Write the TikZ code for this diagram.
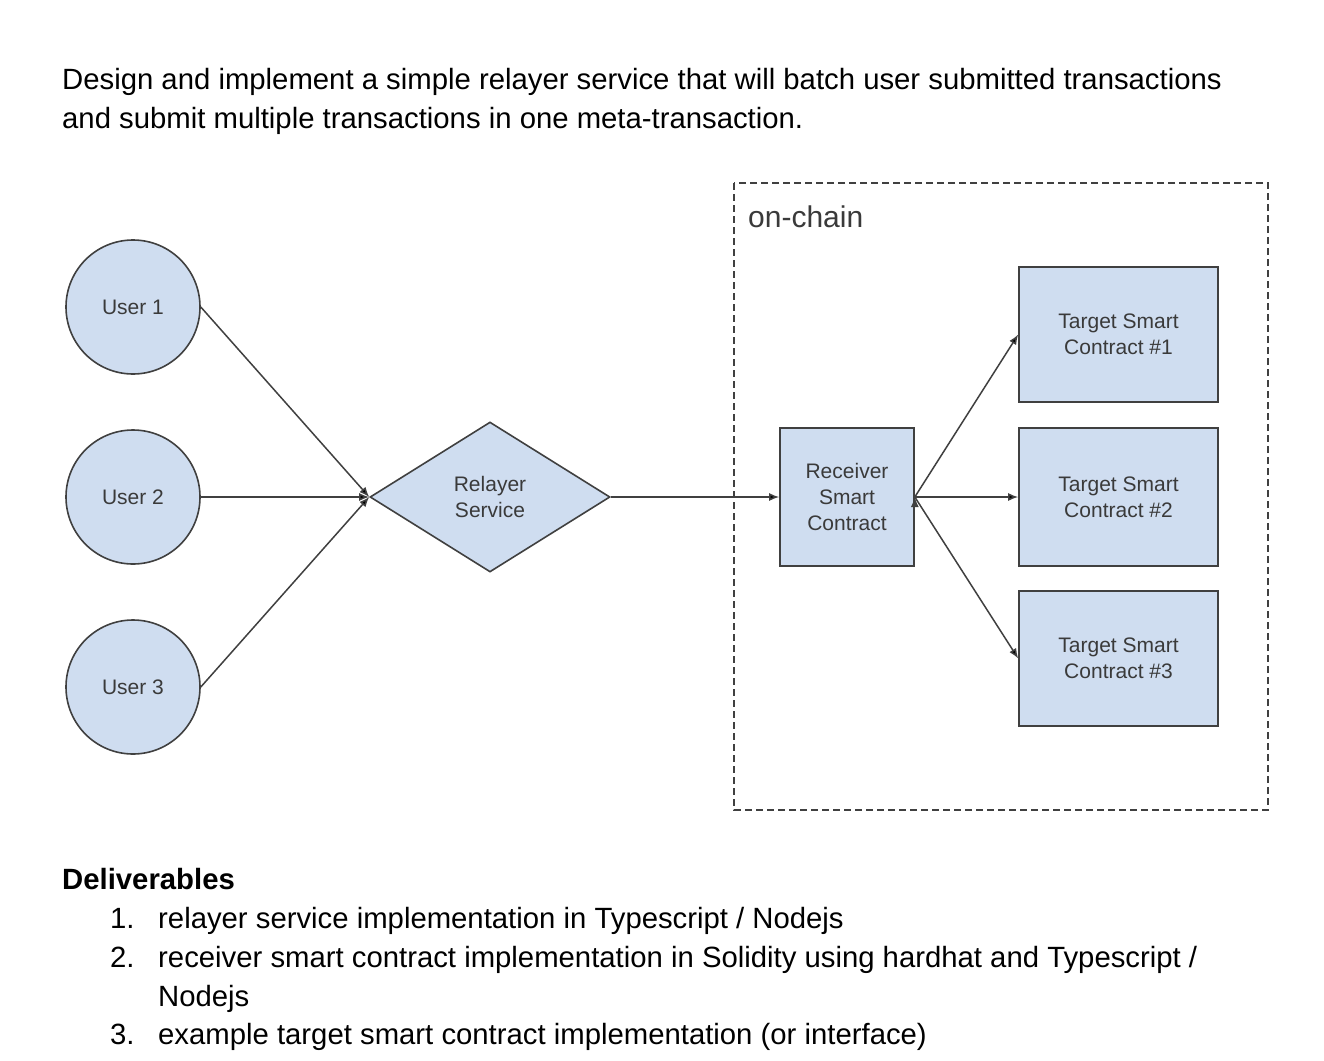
\documentclass[tikz,border=0pt]{standalone}
\usepackage{fontspec}
\setmainfont{Liberation Sans}
\usetikzlibrary{arrows,arrows.meta,shapes.geometric}
\definecolor{boxblue}{RGB}{207,221,240}
\definecolor{linegray}{RGB}{64,64,64}
\definecolor{labelgray}{RGB}{58,58,58}
\newcommand{\bodyfont}{\fontsize{29.3}{39}\selectfont}
\newcommand{\labelfont}{\fontsize{21}{26}\selectfont}

\begin{document}
\begin{tikzpicture}[x=1pt,y=-1pt,>={Latex[length=10pt,width=8pt]},
    user/.style={circle,draw=linegray,fill=boxblue,line width=1.6pt,
      minimum size=134pt,text=labelgray,font=\labelfont},
    relayer/.style={diamond,draw=linegray,fill=boxblue,line width=1.6pt,
      minimum width=240pt,minimum height=150pt,inner sep=0pt,
      text=labelgray,font=\labelfont,align=center},
    contract/.style={rectangle,draw=linegray,fill=boxblue,line width=1.6pt,
      minimum width=199pt,minimum height=135pt,text=labelgray,
      font=\labelfont,align=center},
    conn/.style={draw=linegray,line width=1.5pt},
    txt/.style={anchor=base west,font=\bodyfont,inner sep=0pt}]
  \useasboundingbox[fill=white] (0,0) rectangle (1324,1060);

  % intro
  \node[txt] (intro1) at (62,89) {Design and implement a simple relayer service that will batch user submitted transactions};
  \node[txt] (intro2) at (62,128) {and submit multiple transactions in one meta-transaction.};

  % on-chain area
  \draw[draw=linegray,line width=1.5pt,dash pattern=on 7pt off 4pt]
    (734,183) rectangle (1268,810);
  \node[txt,font=\fontsize{30}{36}\selectfont,text=labelgray] (oc) at (748,227) {on-chain};

  % users
  \node[user] (u1) at (133,307) {User 1};
  \node[user] (u2) at (133,497) {User 2};
  \node[user] (u3) at (133,687) {User 3};

  \node[relayer] (rs) at (490,497) {Relayer\\Service};

  \node[contract,minimum width=134pt,minimum height=138pt] (rc) at (847,497) {Receiver\\Smart\\Contract};

  \node[contract] (t1) at (1118.5,334.5) {Target Smart\\Contract \#1};
  \node[contract,minimum height=138pt] (t2) at (1118.5,497) {Target Smart\\Contract \#2};
  \node[contract] (t3) at (1118.5,658.5) {Target Smart\\Contract \#3};

  \path[->,conn]
    (u1.east) edge (rs.west)
    (u2.east) edge (rs.west)
    (u3.east) edge (rs.west)
    (rs.east) edge (rc.west)
    (rc.east) edge (t1.west)
    (rc.east) edge (t2.west)
    (rc.east) edge (t3.west);

  % deliverables
  \node[txt,font=\bodyfont\bfseries] (dl) at (62,889) {Deliverables};
  \node[txt] (n1) at (110,928) {1.};
  \node[txt] (d1) at (158,928) {relayer service implementation in Typescript / Nodejs};
  \node[txt] (n2) at (110,967) {2.};
  \node[txt] (d2) at (158,967) {receiver smart contract implementation in Solidity using hardhat and Typescript /};
  \node[txt] (d2b) at (158,1006) {Nodejs};
  \node[txt] (n3) at (110,1044) {3.};
  \node[txt] (d3) at (158,1044) {example target smart contract implementation (or interface)};
\end{tikzpicture}
\end{document}
